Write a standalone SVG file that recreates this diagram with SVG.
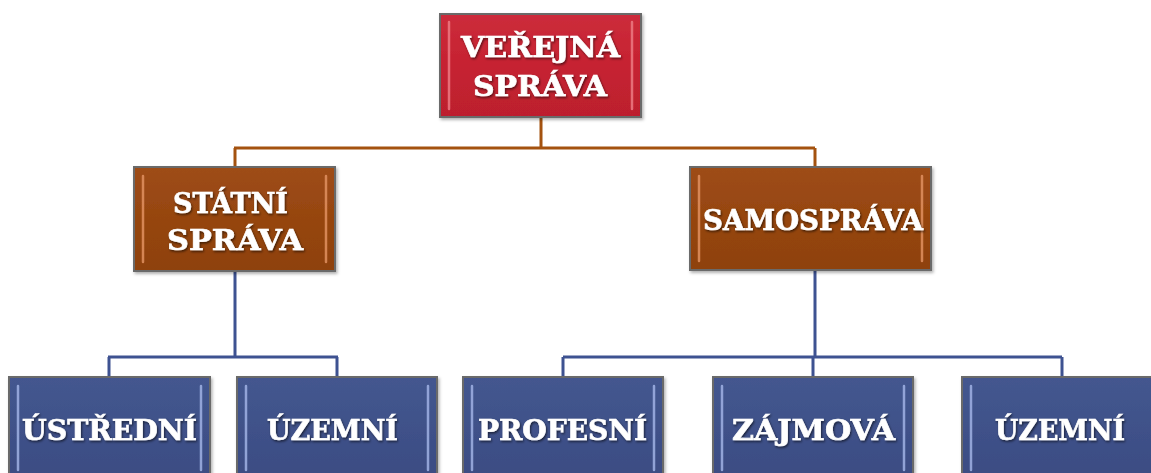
<svg xmlns="http://www.w3.org/2000/svg" width="1151" height="473" viewBox="0 0 1151 473">
<defs>
<linearGradient id="gRed" x1="0" y1="0" x2="0" y2="1"><stop offset="0" stop-color="#cc2c3b"/><stop offset="0.5" stop-color="#c62231"/><stop offset="1" stop-color="#bc1f2e"/></linearGradient>
<linearGradient id="gBrown" x1="0" y1="0" x2="0" y2="1"><stop offset="0" stop-color="#9e4d16"/><stop offset="0.5" stop-color="#964510"/><stop offset="1" stop-color="#8e420e"/></linearGradient>
<linearGradient id="gBlue" x1="0" y1="0" x2="0" y2="1"><stop offset="0" stop-color="#44578f"/><stop offset="0.5" stop-color="#3f5189"/><stop offset="1" stop-color="#3b4c82"/></linearGradient>
<filter id="sh" x="-10%" y="-10%" width="130%" height="140%"><feDropShadow dx="1" dy="1.5" stdDeviation="0.8" flood-color="#000" flood-opacity="0.6"/></filter>
<filter id="bs" x="-5%" y="-5%" width="115%" height="120%"><feDropShadow dx="1.5" dy="2" stdDeviation="1.5" flood-color="#000" flood-opacity="0.3"/></filter>
</defs>
<style>
.box{stroke:#6b6b6b;stroke-width:2;filter:url(#bs)}
.red{fill:url(#gRed)}
.brown{fill:url(#gBrown)}
.blue{fill:url(#gBlue)}
.hl{fill:none;stroke-width:2.5;stroke-linecap:round;opacity:0.85}
.hlr{stroke:#ec7a82}
.hlb{stroke:#e09060}
.hlu{stroke:#a0b2e4}
.t{font-family:"DejaVu Serif","Liberation Serif",serif;font-weight:bold;font-size:27px;fill:#ffffff;stroke:#ffffff;stroke-width:0.6;filter:url(#sh)}
.cb{fill:none;stroke:#a4520f;stroke-width:3}
.cu{fill:none;stroke:#3e5291;stroke-width:3}
</style>
<rect width="1151" height="473" fill="#ffffff"/>
<g id="connectors">
<path class="cb" d="M541 117 V148 M234 148 H815 M235 148 V167 M815 148 V167"/>
<path class="cu" d="M235 271 V357 M108 357 H338 M109 357 V377 M337 357 V377"/>
<path class="cu" d="M815 270 V357 M563 357 H1062 M563 357 V377 M813 357 V377 M1062 357 V377"/>
</g>
<g id="verejna-sprava">
<rect class="box red" x="440" y="14" width="201" height="103"/>
<path class="hl hlr" d="M449 22 V109 M632 22 V109"/>
<text class="t" x="540.5" y="57" text-anchor="middle" textLength="159" lengthAdjust="spacingAndGlyphs">VEŘEJNÁ</text>
<text class="t" x="540" y="96" text-anchor="middle" textLength="134" lengthAdjust="spacingAndGlyphs">SPRÁVA</text>
</g>
<g id="statni-sprava">
<rect class="box brown" x="134" y="167" width="201" height="104"/>
<path class="hl hlb" d="M143 176 V262 M326 176 V262"/>
<text class="t" x="230.5" y="213" text-anchor="middle" textLength="115" lengthAdjust="spacingAndGlyphs">STÁTNÍ</text>
<text class="t" x="235" y="250" text-anchor="middle" textLength="136" lengthAdjust="spacingAndGlyphs">SPRÁVA</text>
</g>
<g id="samosprava">
<rect class="box brown" x="690" y="167" width="241" height="103"/>
<path class="hl hlb" d="M699 176 V261 M922 176 V261"/>
<text class="t" x="813" y="230" text-anchor="middle" textLength="220" lengthAdjust="spacingAndGlyphs">SAMOSPRÁVA</text>
</g>
<g id="ustredni">
<rect class="box blue" x="9" y="377" width="201" height="106"/>
<path class="hl hlu" d="M18 386 V470 M201 386 V470"/>
<text class="t" x="109.5" y="440" text-anchor="middle" textLength="175" lengthAdjust="spacingAndGlyphs">ÚSTŘEDNÍ</text>
</g>
<g id="uzemni-1">
<rect class="box blue" x="237" y="377" width="200" height="106"/>
<path class="hl hlu" d="M246 386 V470 M428 386 V470"/>
<text class="t" x="332.5" y="440" text-anchor="middle" textLength="131" lengthAdjust="spacingAndGlyphs">ÚZEMNÍ</text>
</g>
<g id="profesni">
<rect class="box blue" x="463" y="377" width="200" height="106"/>
<path class="hl hlu" d="M472 386 V470 M654 386 V470"/>
<text class="t" x="562.5" y="440" text-anchor="middle" textLength="169" lengthAdjust="spacingAndGlyphs">PROFESNÍ</text>
</g>
<g id="zajmova">
<rect class="box blue" x="713" y="377" width="200" height="106"/>
<path class="hl hlu" d="M722 386 V470 M904 386 V470"/>
<text class="t" x="813.5" y="440" text-anchor="middle" textLength="163" lengthAdjust="spacingAndGlyphs">ZÁJMOVÁ</text>
</g>
<g id="uzemni-2">
<rect class="box blue" x="962" y="377" width="200" height="106"/>
<path class="hl hlu" d="M971 386 V470 M1153 386 V470"/>
<text class="t" x="1060" y="440" text-anchor="middle" textLength="130" lengthAdjust="spacingAndGlyphs">ÚZEMNÍ</text>
</g>
</svg>
